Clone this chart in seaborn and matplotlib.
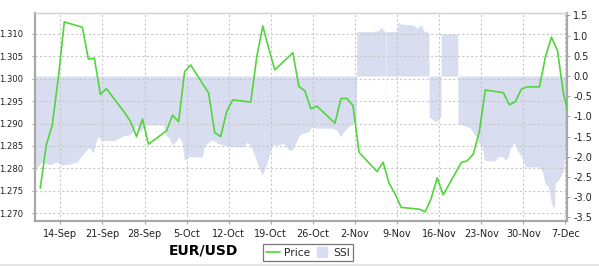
import numpy as np
import pandas as pd
import matplotlib
matplotlib.use("Agg")
import matplotlib.pyplot as plt
import matplotlib.dates as mdates
from matplotlib.lines import Line2D
from matplotlib.patches import Rectangle
import seaborn as sns

# ---------------- data ----------------
price_days = ["09-10", "09-11", "09-12", "09-13", "09-14",
              "09-17", "09-18", "09-19", "09-20", "09-21",
              "09-24", "09-25", "09-26", "09-27", "09-28",
              "10-01", "10-02", "10-03", "10-04", "10-05",
              "10-08", "10-09", "10-10", "10-11", "10-12",
              "10-15", "10-16", "10-17", "10-18", "10-19",
              "10-22", "10-23", "10-24", "10-25", "10-26",
              "10-29", "10-30", "10-31", "11-01", "11-02",
              "11-05", "11-06", "11-07", "11-08", "11-09",
              "11-12", "11-13", "11-14", "11-15", "11-16",
              "11-19", "11-20", "11-21", "11-22", "11-23",
              "11-26", "11-27", "11-28", "11-29", "11-30",
              "12-02", "12-03", "12-04", "12-05", "12-06", "12-07"]
price_values = [1.2756, 1.2852, 1.2897, 1.3002, 1.3127,
                1.3115, 1.3044, 1.3046, 1.2965, 1.2978,
                1.2925, 1.2905, 1.2871, 1.2910, 1.2854,
                1.2884, 1.2919, 1.2904, 1.3016, 1.3031,
                1.2968, 1.2880, 1.2871, 1.2927, 1.2953,
                1.2948, 1.3049, 1.3118, 1.3067, 1.3020,
                1.3058, 1.2983, 1.2973, 1.2933, 1.2939,
                1.2901, 1.2956, 1.2956, 1.2940, 1.2836,
                1.2793, 1.2814, 1.2767, 1.2743, 1.2713,
                1.2709, 1.2703, 1.2733, 1.2779, 1.2741,
                1.2813, 1.2817, 1.2832, 1.2882, 1.2975,
                1.2969, 1.2942, 1.2949, 1.2977, 1.2982,
                1.2982, 1.3049, 1.3093, 1.3063, 1.2966, 1.2912]

ssi_times = ["09-09 15:00", "09-10 04:00", "09-10 23:00", "09-12 07:00", "09-13 07:00",
             "09-14 07:00", "09-15 15:00", "09-16 20:00", "09-17 10:00", "09-17 23:00",
             "09-18 18:00", "09-19 07:00", "09-19 12:00", "09-19 22:00", "09-20 07:00",
             "09-20 23:00", "09-22 23:00", "09-24 08:00", "09-24 20:00", "09-25 11:00",
             "09-26 06:00", "09-26 15:00", "09-27 07:00", "09-28 03:00", "09-30 23:00",
             "10-01 06:00", "10-01 12:00", "10-02 02:00", "10-02 15:00", "10-03 04:00",
             "10-03 18:00", "10-04 07:00", "10-04 14:00", "10-05 10:00", "10-07 15:00",
             "10-07 22:00", "10-08 18:00", "10-09 07:00", "10-10 02:00", "10-11 04:00",
             "10-12 07:00", "10-14 12:00", "10-15 02:00", "10-15 15:00", "10-16 04:00",
             "10-16 18:00", "10-17 14:00", "10-18 03:00", "10-18 16:00", "10-19 06:00",
             "10-20 02:00", "10-21 04:00", "10-22 00:00", "10-22 14:00", "10-23 03:00",
             "10-23 15:00", "10-24 04:00", "10-25 07:00", "10-25 20:00", "10-26 10:00",
             "10-27 12:00", "10-29 04:00", "10-30 00:00", "10-30 14:00", "10-31 03:00",
             "10-31 23:00", "11-01 15:00", "11-02 05:00", "11-02 07:00", "11-02 23:00",
             "11-04 15:00", "11-05 23:00", "11-06 07:00", "11-06 19:00", "11-07 03:00",
             "11-07 04:00", "11-07 05:00", "11-08 23:00", "11-09 06:00", "11-09 12:00",
             "11-11 18:00", "11-12 07:00", "11-12 20:00", "11-13 03:00", "11-13 10:00",
             "11-14 06:00", "11-14 07:00", "11-14 08:00", "11-15 08:00", "11-15 22:00",
             "11-16 04:00", "11-16 07:00", "11-16 08:00", "11-18 23:00", "11-19 02:00",
             "11-19 03:00", "11-19 19:00", "11-20 15:00", "11-21 04:00", "11-21 18:00",
             "11-22 07:00", "11-22 12:00", "11-23 02:00", "11-23 12:00", "11-24 04:00",
             "11-25 07:00", "11-25 20:00", "11-26 15:00", "11-26 23:00", "11-27 12:00",
             "11-27 19:00", "11-28 08:00", "11-28 12:00", "11-28 22:00", "11-29 18:00",
             "11-30 07:00", "12-02 12:00", "12-03 02:00", "12-03 15:00", "12-04 04:00",
             "12-04 11:00", "12-04 20:00", "12-05 04:00", "12-05 07:00", "12-05 20:00",
             "12-06 07:00", "12-06 16:00", "12-06 23:00", "12-07 07:00"]
ssi_values = [-2.45, -2.25, -2.13, -2.20, -2.13,
              -2.20, -2.18, -2.12, -2.00, -1.91,
              -1.77, -1.86, -1.91, -1.63, -1.50,
              -1.60, -1.60, -1.49, -1.47, -1.46,
              -1.34, -1.21, -1.39, -1.21, -1.21,
              -1.25, -1.46, -1.53, -1.71, -1.63,
              -1.50, -1.66, -2.08, -2.00, -2.00,
              -1.75, -1.63, -1.58, -1.66, -1.71,
              -1.75, -1.75, -1.63, -1.71, -1.91,
              -2.16, -2.45, -2.25, -2.00, -1.71,
              -1.71, -1.67, -1.83, -1.83, -1.67,
              -1.50, -1.42, -1.38, -1.25, -1.29,
              -1.29, -1.29, -1.34, -1.50, -1.38,
              -1.25, -1.17, -1.14, 1.10, 1.10,
              1.10, 1.12, 1.21, 1.12, 1.10,
              -1.04, 1.10, 1.10, 1.34, 1.29,
              1.26, 1.18, 1.26, 1.24, 1.12,
              1.07, 1.07, -1.01, -1.13, -1.09,
              -1.01, -1.01, 1.04, 1.04, 1.04,
              -1.17, -1.21, -1.25, -1.29, -1.42,
              -1.54, -1.63, -1.71, -2.08, -2.10,
              -2.10, -2.00, -2.00, -2.08, -2.00,
              -1.79, -1.67, -1.63, -1.83, -2.00,
              -2.25, -2.25, -2.33, -2.66, -2.74,
              -2.99, -3.24, -3.24, -2.66, -2.57,
              -2.45, -2.33, -1.83, -1.71]

price_ticks = [1.270, 1.275, 1.280, 1.285, 1.290, 1.295, 1.300, 1.305, 1.310]
ssi_ticks = [-3.5, -3.0, -2.5, -2.0, -1.5, -1.0, -0.5, 0.0, 0.5, 1.0, 1.5]
title_text = "EUR/USD"
legend_labels = ["Price", "SSI"]

# ---------------- style ----------------
sns.set_theme(style="white")
plt.rcParams['font.family'] = ['DejaVu Sans']
plt.rcParams['axes.unicode_minus'] = False

price_color = "#52d43c"
ssi_color = "#d8deef"
grid_color = "#c8c8c8"
spine_color = "#a8a8a8"

price_t = pd.to_datetime(["2012-" + d + " 16:00" for d in price_days])
ssi_t = pd.to_datetime(["2012-" + d for d in ssi_times])

W, H = 599, 266
fig = plt.figure(figsize=(W / 100, H / 100), dpi=100)
left, right, top, bottom = 35, 567, 12.7, 221
ax = fig.add_axes([left / W, 1 - bottom / H, (right - left) / W, (bottom - top) / H])
ax.set_facecolor("white")

# SSI area (right axis)
ax.fill_between(ssi_t, 0, ssi_values, color=ssi_color, linewidth=0, zorder=1)
ax.set_ylim(-3.589, 1.567)
ax.set_yticks(ssi_ticks)
ax.set_yticklabels([f"{v:.1f}" for v in ssi_ticks])
ax.set_axisbelow('line')

# x axis
ax.set_xlim(pd.Timestamp("2012-09-09 19:00"), pd.Timestamp("2012-12-07 06:00"))
ax.xaxis.set_major_locator(mdates.WeekdayLocator(byweekday=mdates.FR))
ax.xaxis.set_major_formatter(mdates.DateFormatter('%-d-%b'))
ax.grid(True, axis='x', color=grid_color, linestyle=(0, (2, 2)), linewidth=0.8)
ax.grid(False, axis='y')

# price line (left axis)
ax2 = ax.twinx()
sns.lineplot(x=price_t, y=price_values, ax=ax2, color=price_color, linewidth=1.2, zorder=3)
ax2.set_ylim(1.26826, 1.31475)
ax2.set_yticks(price_ticks)
ax2.set_yticklabels([f"{v:.3f}" for v in price_ticks])
ax2.grid(True, axis='y', color=grid_color, linestyle=(0, (2, 2)), linewidth=0.8)
ax2.set_xlabel("")
ax2.set_ylabel("")
ax.set_xlabel("")
ax.set_ylabel("")

# swap sides: SSI ticks on the right, price ticks on the left
ax.yaxis.set_ticks_position('right')
ax.tick_params(axis='y', left=False, labelleft=False, right=True, labelright=True)
ax2.yaxis.set_ticks_position('left')
ax2.tick_params(axis='y', left=True, labelleft=True, right=False, labelright=False)

for sp in ax.spines.values():
    sp.set_visible(False)
for name, sp in ax2.spines.items():
    sp.set_visible(True)
    sp.set_color(spine_color)
    sp.set_linewidth(1.6)
ax2.spines['top'].set_color("#d0d0d0")
ax2.spines['top'].set_linewidth(1.0)

ax.tick_params(axis='x', length=2.5, width=0.8, color=spine_color, pad=3.5,
               labelsize=7, labelcolor="#222222", bottom=True)
ax.tick_params(axis='y', length=2.5, width=0.8, color=spine_color, pad=2,
               labelsize=7, labelcolor="#222222")
ax2.tick_params(axis='y', length=2, width=0.8, color=spine_color, pad=6.5,
                labelsize=6.1, labelcolor="#222222")

# title text
fig.text(203 / W, 1 - 250 / H, title_text, ha='center', va='center',
         fontsize=10, fontweight='bold', color='black')

# legend
handles = [Line2D([], [], color=price_color, linewidth=1.2),
           Line2D([], [], marker='s', linestyle='none', markersize=6.5,
                  markerfacecolor=ssi_color, markeredgecolor=ssi_color)]
leg = fig.legend(handles, legend_labels, loc='center',
                 bbox_to_anchor=(308 / W, 1 - 252.7 / H), ncol=2, fontsize=7.7,
                 frameon=True, fancybox=False, handlelength=1.3,
                 handletextpad=0.35, columnspacing=0.45, borderpad=0.3,
                 borderaxespad=0)
leg.get_frame().set_edgecolor("#555555")
leg.get_frame().set_linewidth(0.9)

fig.patches.append(Rectangle((0, 0), 1, 2.2 / H, transform=fig.transFigure,
                             facecolor="#e6e6e6", edgecolor='none', zorder=0))

fig.savefig("out.png", dpi=100)
